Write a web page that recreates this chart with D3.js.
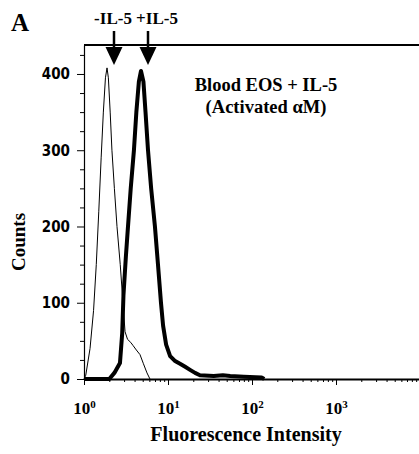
<!DOCTYPE html>
<html>
<head>
<meta charset="utf-8">
<script src="https://cdn.jsdelivr.net/npm/d3@7"></script>
<style>
  body { margin: 0; background: #fff; }
  svg { display: block; }
  text { font-family: "Liberation Serif", "Times New Roman", serif; font-weight: bold; fill: #000; }
</style>
</head>
<body>
<div id="chart"><svg width="419" height="454"></svg></div>
<script>
// histogram of -IL-5 (thin) and +IL-5 (thick), intensity vs counts
const thinIntensity = [1.0, 1.05, 1.18, 1.3, 1.4, 1.5, 1.6, 1.7, 1.8, 1.88, 1.95, 2.05, 2.15, 2.3, 2.47, 2.7, 2.91, 3.08, 3.3, 3.6, 3.83, 4.2, 4.64, 5.1, 5.62, 6.1]
const thinCounts    = [0, 5, 40, 90, 150, 220, 290, 350, 395, 408, 395, 350, 300, 250, 200, 150, 100, 62, 52, 48, 44, 38, 32, 20, 8, 0]

const thickIntensity = [1.0, 2.0, 2.3, 2.68, 2.85, 2.95, 3.15, 3.34, 3.6, 3.93, 4.2, 4.5, 4.77, 5.1, 5.4, 5.78, 6.3, 6.99, 7.6, 8.25, 8.74, 9.5, 10.6, 12, 13.9, 16, 18.3, 21, 24, 35, 45, 55, 80, 130, 140]
const thickCounts    = [0, 0, 8, 21, 60, 110, 160, 200, 250, 300, 350, 390, 404, 390, 350, 300, 250, 200, 150, 100, 70, 45, 30, 24, 20, 16, 12, 8, 5, 4, 5, 4, 3, 2, 0]

const yTicks = [0, 100, 200, 300, 400]
const xTicks = [1, 10, 100, 1000]

const svg = d3.select('#chart svg')
const mLeft = 84, mRight = 420, mTop = 45, mBottom = 379

const xScale = d3.scaleLog().domain([1, 1e4]).range([mLeft, mRight])
const yScale = d3.scaleLinear().domain([0, 438]).range([mBottom, mTop])

// minor ticks
const yMinor = d3.range(0, 438, 25).filter(v => v % 100 !== 0)
svg.append('g')
  .attr('transform', `translate(${mLeft}, 0)`)
  .call(d3.axisLeft(yScale).tickValues(yMinor).tickSize(4).tickFormat(''))
  .call(g => g.select('.domain').remove())

const xMinor = []
xTicks.forEach(d => { for (let k = 2; k <= 9; k++) xMinor.push(d * k) })
svg.append('g')
  .attr('transform', `translate(0, ${mBottom})`)
  .call(d3.axisBottom(xScale).tickValues(xMinor).tickSize(3).tickFormat(''))
  .call(g => g.select('.domain').remove())

// y axis
const yAxis = svg.append('g')
  .attr('transform', `translate(${mLeft}, 0)`)
  .call(d3.axisLeft(yScale).tickValues(yTicks).tickSize(7).tickSizeOuter(0).tickPadding(7))
yAxis.select('.domain').attr('stroke-width', 1.2)
yAxis.selectAll('.tick text')
  .style('font-family', '"Liberation Sans Narrow", "DejaVu Sans Condensed", "Liberation Sans", sans-serif')
  .style('font-size', '15px')
  .style('font-weight', 'bold')

// x axis
const xAxis = svg.append('g')
  .attr('transform', `translate(0, ${mBottom})`)
  .call(d3.axisBottom(xScale).tickValues(xTicks).tickSize(6).tickSizeOuter(0).tickPadding(17).tickFormat(''))
xAxis.select('.domain').attr('stroke-width', 2)
xAxis.selectAll('.tick text')
  .style('font-size', '17px')
  .each(function (d) {
    const t = d3.select(this)
    t.text('10')
    t.append('tspan').attr('dy', '-0.55em').style('font-size', '11px').text(Math.round(Math.log10(d)))
  })

// top frame line
svg.append('line')
  .attr('x1', mLeft).attr('x2', mRight)
  .attr('y1', mTop).attr('y2', mTop)
  .attr('stroke', '#000').attr('stroke-width', 2)

// curves
const line = d3.line()
  .x(d => xScale(d[0]))
  .y(d => yScale(d[1]))

svg.append('path')
  .datum(d3.zip(thinIntensity, thinCounts))
  .attr('d', line)
  .attr('fill', 'none').attr('stroke', '#000').attr('stroke-width', 1)

svg.append('path')
  .datum(d3.zip(thickIntensity, thickCounts))
  .attr('d', line)
  .attr('fill', 'none').attr('stroke', '#000').attr('stroke-width', 4)
  .attr('stroke-linejoin', 'round')

// arrows
const arrows = [{ label: '-IL-5', x: 114, tx: 113 }, { label: '+IL-5', x: 148, tx: 157 }]
arrows.forEach(a => {
  svg.append('line')
    .attr('x1', a.x).attr('x2', a.x).attr('y1', 31).attr('y2', 48)
    .attr('stroke', '#000').attr('stroke-width', 2.5)
  svg.append('path')
    .attr('d', `M${a.x - 8.5},47 L${a.x + 8.5},47 L${a.x},65 Z`)
    .attr('fill', '#000')
  svg.append('text')
    .attr('x', a.tx).attr('y', 24)
    .attr('text-anchor', 'middle')
    .style('font-size', '17px')
    .text(a.label)
})

// texts
svg.append('text').attr('x', 11).attr('y', 31).style('font-size', '25px').text('A')

svg.append('text').attr('x', 266).attr('y', 91)
  .attr('text-anchor', 'middle').style('font-size', '18.5px')
  .text('Blood EOS + IL-5')
svg.append('text').attr('x', 266).attr('y', 113)
  .attr('text-anchor', 'middle').style('font-size', '18.5px')
  .text('(Activated \u03b1M)')

svg.append('text')
  .attr('transform', `translate(25, ${(mTop + mBottom) / 2 + 30}) rotate(-90)`)
  .attr('text-anchor', 'middle')
  .style('font-size', '19px')
  .text('Counts')

svg.append('text')
  .attr('x', 246).attr('y', 441)
  .attr('text-anchor', 'middle')
  .style('font-size', '20px')
  .text('Fluorescence Intensity')
</script>
</body>
</html>
